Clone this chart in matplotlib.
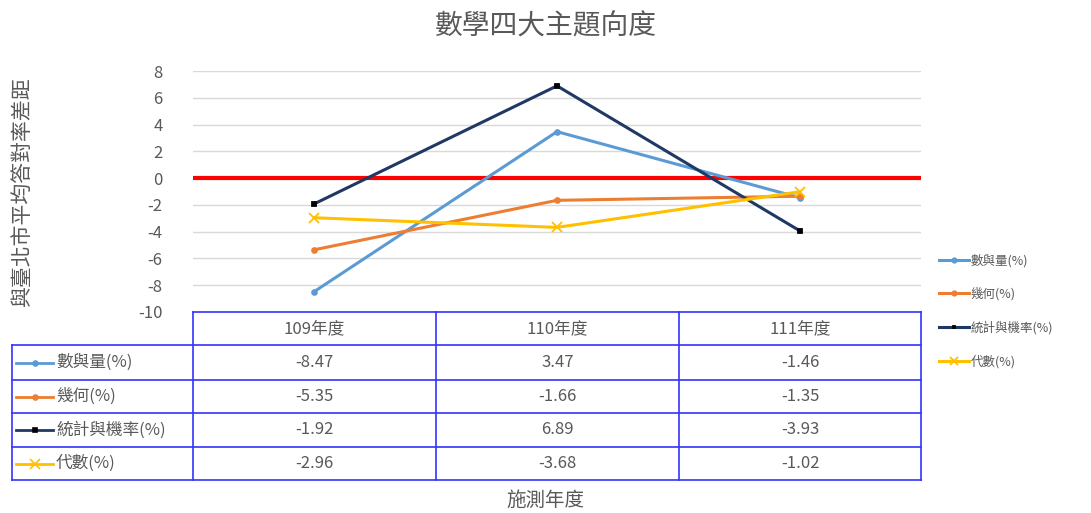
import numpy as np
import matplotlib.pyplot as plt
from matplotlib.lines import Line2D

plt.rcParams['font.family'] = ['Noto Sans CJK TC', 'DejaVu Sans']

years = ['109年度', '110年度', '111年度']
series_names = ['數與量(%)', '幾何(%)', '統計與機率(%)', '代數(%)']
num_qty = [-8.47, 3.47, -1.46]
geometry = [-5.35, -1.66, -1.35]
stats_prob = [-1.92, 6.89, -3.93]
algebra = [-2.96, -3.68, -1.02]
all_values = [num_qty, geometry, stats_prob, algebra]

colors = ['#5B9BD5', '#ED7D31', '#1F3864', '#FFC000']
markers = ['o', 'o', 's', 'x']
msizes = [3.5, 3.5, 2.2, 7]
mfc = ['#5B9BD5', '#ED7D31', 'black', '#FFC000']
txt = '#595959'
W, H = 1091, 513

fig = plt.figure(figsize=(W / 100, H / 100), dpi=100)

def fx(px):
    return px / W

def fy(py):
    return 1 - py / H

# main plot area
ax = fig.add_axes([fx(193), fy(312), fx(921) - fx(193), fy(71) - fy(312)])
x = np.arange(len(years))
for vals, c, m, ms, fc, name in zip(all_values, colors, markers, msizes, mfc, series_names):
    ax.plot(x, vals, color=c, lw=2.2, marker=m, ms=ms, mfc=fc, mec=fc,
            mew=1.3, label=name, zorder=3)
ax.axhline(0, color='#FF0000', lw=3, zorder=2)
ax.set_xlim(-0.5, 2.5)
ax.set_ylim(-10, 8)
ax.set_yticks(range(-10, 9, 2))
ax.set_yticklabels([str(v) for v in range(-10, 9, 2)], color=txt, fontsize=12)
ax.set_xticks([])
ax.tick_params(axis='y', length=0, pad=22)
ax.grid(axis='y', color='#D9D9D9', lw=1)
ax.set_axisbelow(True)
for s in ax.spines.values():
    s.set_visible(False)

fig.text(0.5, fy(26), '數學四大主題向度', ha='center', va='center',
         fontsize=20, color=txt)
fig.text(fx(22), fy(192), '與臺北市平均答對率差距', rotation=90,
         ha='center', va='center', fontsize=15, color=txt)
fig.text(0.5, fy(500), '施測年度', ha='center', va='center',
         fontsize=14, color=txt)

# data table drawn below the axis
blue = '#3333FF'
col_edges = [193, 436, 679, 921]
row_edges = [312, 345, 380, 413, 447, 480]
def hline(y, x0, x1):
    fig.add_artist(Line2D([fx(x0), fx(x1)], [fy(y), fy(y)], color=blue, lw=1.2))
def vline(xp, y0, y1):
    fig.add_artist(Line2D([fx(xp), fx(xp)], [fy(y0), fy(y1)], color=blue, lw=1.2))

hline(row_edges[0], col_edges[0], col_edges[-1])
for y in row_edges[1:]:
    hline(y, 12, col_edges[-1])
for xp in col_edges:
    vline(xp, row_edges[0], row_edges[-1])
vline(12, row_edges[1], row_edges[-1])

for j, yr in enumerate(years):
    cx = (col_edges[j] + col_edges[j + 1]) / 2
    fig.text(fx(cx), fy((row_edges[0] + row_edges[1]) / 2), yr,
             ha='center', va='center', fontsize=12, color=txt)
for i, (vals, c, m, ms, fc, name) in enumerate(zip(all_values, colors, markers, msizes, mfc, series_names)):
    cy = (row_edges[i + 1] + row_edges[i + 2]) / 2
    fig.add_artist(Line2D([fx(16), fx(53)], [fy(cy), fy(cy)], color=c, lw=2))
    fig.add_artist(Line2D([fx(34.5)], [fy(cy)], color=c, marker=m, ms=ms,
                          mfc=fc, mec=fc, mew=1.2))
    fig.text(fx(56), fy(cy), name, ha='left', va='center', fontsize=12, color=txt)
    for j, v in enumerate(vals):
        cx = (col_edges[j] + col_edges[j + 1]) / 2
        fig.text(fx(cx), fy(cy), f'{v:.2f}', ha='center', va='center',
                 fontsize=12, color=txt)

# legend at right
leg = fig.legend(*ax.get_legend_handles_labels(), loc='center left',
                 bbox_to_anchor=(fx(928), fy(311)), frameon=False, fontsize=9,
                 labelspacing=1.6, handlelength=2.4, handletextpad=0.1,
                 markerscale=0.9)
for t in leg.get_texts():
    t.set_color(txt)

fig.savefig('out.png', dpi=100)
